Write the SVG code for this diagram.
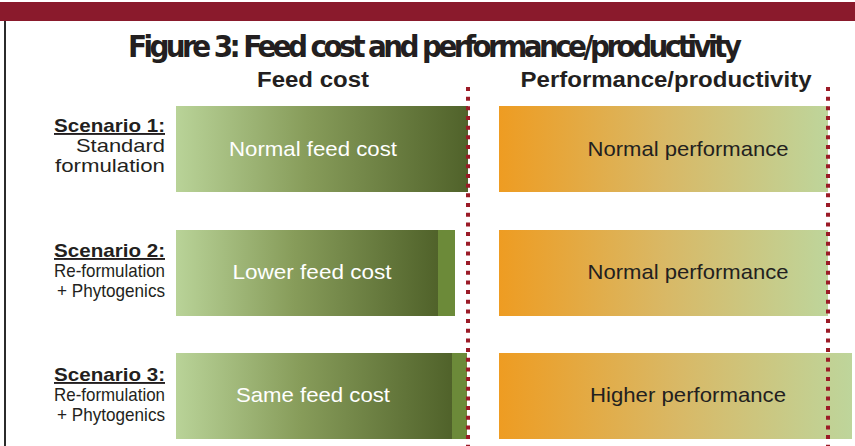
<svg xmlns="http://www.w3.org/2000/svg" width="855" height="446" viewBox="0 0 855 446">
  <style>
    .title { font-family: "DejaVu Sans Condensed", "Liberation Sans Narrow", "Liberation Sans", sans-serif; font-weight: bold; font-size: 31px; fill: #231f20; }
    .head { font-family: "Liberation Sans", Arial, sans-serif; font-weight: bold; font-size: 22px; fill: #231f20; text-anchor: middle; }
    .lab { font-family: "Liberation Sans", Arial, sans-serif; font-size: 19px; fill: #231f20; text-anchor: end; }
    .lab .sc { font-weight: bold; text-decoration: underline; }
    .barw { font-family: "Liberation Sans", Arial, sans-serif; font-size: 21px; fill: #ffffff; text-anchor: middle; }
    .bard { font-family: "Liberation Sans", Arial, sans-serif; font-size: 21px; fill: #231f20; text-anchor: middle; }
    .dots { stroke: #9b1b27; stroke-width: 4; stroke-dasharray: 4 5.67; fill: none; }
  </style>
  <defs>
    <linearGradient id="feedGrad" x1="0" y1="0" x2="1" y2="0">
      <stop offset="0" stop-color="#b9d398"/>
      <stop offset="0.45" stop-color="#879c5a"/>
      <stop offset="1" stop-color="#50622a"/>
    </linearGradient>
    <linearGradient id="perfGrad" x1="0" y1="0" x2="1" y2="0">
      <stop offset="0" stop-color="#ee9c22"/>
      <stop offset="0.5" stop-color="#d9b865"/>
      <stop offset="1" stop-color="#bed59b"/>
    </linearGradient>
  </defs>

  <!-- frame -->
  <rect x="0" y="0" width="855" height="446" fill="#ffffff"/>
  <rect x="0" y="2" width="855" height="19" fill="#8a1a2c"/>
  <rect x="4" y="21" width="2" height="425" fill="#2b2b2b"/>

  <text class="title" x="128" y="57" textLength="614">Figure 3: Feed cost and performance/productivity</text>

  <text class="head" x="313" y="87" textLength="112" lengthAdjust="spacingAndGlyphs">Feed cost</text>
  <text class="head" x="666" y="87" textLength="291" lengthAdjust="spacingAndGlyphs">Performance/productivity</text>

  <!-- Scenario 1 -->
  <g id="scenario1">
    <text class="lab" x="165" y="132"><tspan class="sc" textLength="111" lengthAdjust="spacingAndGlyphs">Scenario 1:</tspan></text>
    <text class="lab" x="165" y="152" textLength="89" lengthAdjust="spacingAndGlyphs">Standard</text>
    <text class="lab" x="165" y="172" textLength="110" lengthAdjust="spacingAndGlyphs">formulation</text>
  </g>
  <g id="feed1">
    <rect x="176" y="106" width="292" height="86" fill="url(#feedGrad)"/>
    <text class="barw" x="313" y="156" textLength="168" lengthAdjust="spacingAndGlyphs">Normal feed cost</text>
  </g>
  <g id="perf1">
    <rect x="499" y="106" width="329" height="86" fill="url(#perfGrad)"/>
    <text class="bard" x="688" y="156" textLength="201" lengthAdjust="spacingAndGlyphs">Normal performance</text>
  </g>

  <!-- Scenario 2 -->
  <g id="scenario2">
    <text class="lab" x="165" y="257"><tspan class="sc" textLength="111" lengthAdjust="spacingAndGlyphs">Scenario 2:</tspan></text>
    <text class="lab" x="165" y="277" textLength="111" lengthAdjust="spacingAndGlyphs">Re-formulation</text>
    <text class="lab" x="165" y="297" textLength="108" lengthAdjust="spacingAndGlyphs">+ Phytogenics</text>
  </g>
  <g id="feed2">
    <rect x="438" y="230" width="17" height="86" fill="#6c8a39"/>
    <rect x="176" y="230" width="262" height="86" fill="url(#feedGrad)"/>
    <text class="barw" x="312" y="279" textLength="159" lengthAdjust="spacingAndGlyphs">Lower feed cost</text>
  </g>
  <g id="perf2">
    <rect x="499" y="230" width="329" height="86" fill="url(#perfGrad)"/>
    <text class="bard" x="688" y="279" textLength="201" lengthAdjust="spacingAndGlyphs">Normal performance</text>
  </g>

  <!-- Scenario 3 -->
  <g id="scenario3">
    <text class="lab" x="165" y="381"><tspan class="sc" textLength="111" lengthAdjust="spacingAndGlyphs">Scenario 3:</tspan></text>
    <text class="lab" x="165" y="401" textLength="111" lengthAdjust="spacingAndGlyphs">Re-formulation</text>
    <text class="lab" x="165" y="421" textLength="108" lengthAdjust="spacingAndGlyphs">+ Phytogenics</text>
  </g>
  <g id="feed3">
    <rect x="452" y="353" width="15" height="86" fill="#6c8a39"/>
    <rect x="176" y="353" width="276" height="86" fill="url(#feedGrad)"/>
    <text class="barw" x="313" y="402" textLength="154" lengthAdjust="spacingAndGlyphs">Same feed cost</text>
  </g>
  <g id="perf3">
    <rect x="499" y="353" width="353" height="86" fill="url(#perfGrad)"/>
    <text class="bard" x="688" y="402" textLength="196" lengthAdjust="spacingAndGlyphs">Higher performance</text>
  </g>

  <!-- reference lines -->
  <g id="connectors">
    <line class="dots" x1="468" y1="87" x2="468" y2="446"/>
    <line class="dots" x1="828" y1="87" x2="828" y2="446"/>
  </g>
</svg>
